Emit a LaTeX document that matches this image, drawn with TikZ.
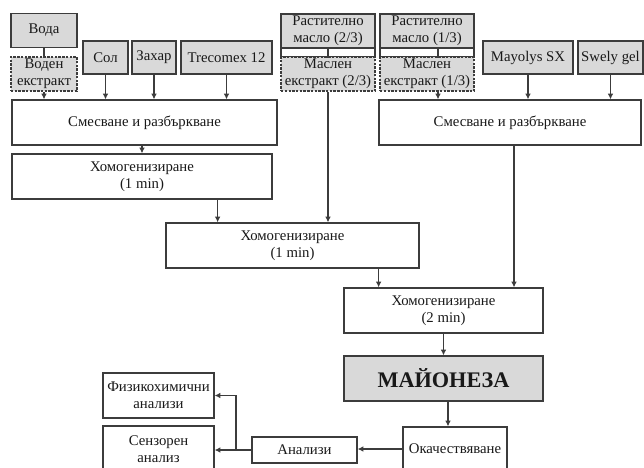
\documentclass[tikz,border=0pt]{standalone}
\usepackage{fontspec}
\setmainfont{Liberation Serif}
\usetikzlibrary{arrows.meta,positioning,calc}
\definecolor{mayoline}{HTML}{3C3C3C}
\definecolor{mayogray}{HTML}{D9D9D9}
\tikzset{box/.style={draw=mayoline,line width=1.05pt,fill=white,align=center,inner sep=0pt,text=black!90,
  font=\fontsize{12.6}{14.5}\selectfont,minimum height=13.5mm},
 grbox/.style={box,fill=mayogray,minimum height=10.2mm},
 dbox/.style={grbox,dash pattern=on 2pt off 1.2pt},
 strip/.style={draw=mayoline,line width=1.05pt,fill=white,inner sep=0pt,minimum height=2.7mm,minimum width=28.2mm},
 flow/.style={-{Latex[length=5pt,width=5pt]},draw=mayoline,line width=1.05pt},
 joint/.style={draw=mayoline,line width=1.05pt}}
\begin{document}
\begin{tikzpicture}[x=0.3mm,y=-0.3mm]
\useasboundingbox (0,0) rectangle (644,468);
\clip (0,0) rectangle (644,468);
% water phase
\node[grbox,minimum width=19.8mm] (voda) at (44,30.5) {Вода};
\node[dbox,minimum width=19.8mm] (voden) at (44,74) {Воден\\екстракт};
\node[grbox,minimum width=13.5mm,minimum height=9.9mm] (sol) at (105.5,57.5) {Сол};
\node[grbox,minimum width=13.2mm,minimum height=9.9mm] (zahar) at (154,57.5) {Захар};
\node[grbox,minimum width=27.3mm,minimum height=9.9mm] (trecomex) at (226.5,57.5) {Trecomex 12};
\node[box,minimum width=79.5mm] (mix1) at (144.5,122.5) {Смесване и разбъркване};
\node[box,minimum width=78mm] (hom1) at (142,176.5) {Хомогенизиране\\(1 min)};
% oil phase
\node[grbox,minimum width=28.2mm] (rast23) at (328,31) {Растително\\масло (2/3)};
\node[strip] (strip23) at (328,52.5) {};
\node[dbox,minimum width=28.2mm] (maslen23) at (328,74) {Маслен\\екстракт (2/3)};
\node[grbox,minimum width=28.2mm] (rast13) at (427,31) {Растително\\масло (1/3)};
\node[strip] (strip13) at (427,52.5) {};
\node[dbox,minimum width=28.2mm] (maslen13) at (427,74) {Маслен\\екстракт (1/3)};
\node[grbox,minimum width=27mm,minimum height=9.9mm] (mayolys) at (528,57.5) {Mayolys SX};
\node[grbox,minimum width=19.5mm,minimum height=9.9mm] (swely) at (610.5,57.5) {Swely gel};
\node[box,minimum width=78.6mm] (mix2) at (510,122.5) {Смесване и разбъркване};
% emulsion
\node[box,minimum width=75.9mm] (hom2) at (292.5,245.5) {Хомогенизиране\\(1 min)};
\node[box,minimum width=59.7mm] (hom3) at (443.5,310.5) {Хомогенизиране\\(2 min)};
\node[box,fill=mayogray,minimum width=59.7mm,font=\fontsize{19}{22}\selectfont\bfseries] (mayo) at (443.5,378.5) {МАЙОНЕЗА};
\node[box,minimum width=31.2mm,minimum height=13.2mm] (okach) at (455,449) {Окачествяване};
\node[box,minimum width=31.5mm,minimum height=7.8mm] (analizi) at (304.5,450) {Анализи};
\node[box,minimum width=33.3mm] (fiz) at (158.5,395.5) {Физикохимични\\анализи};
\node[box,minimum width=33.3mm,minimum height=13.8mm] (senz) at (158.5,449) {Сензорен\\анализ};
\coordinate (split) at (236,450);
% connectors
\draw[joint] (voda.south) -- (voden.north);
\draw[joint] (strip23.north) -- (strip23.south);
\draw[joint] ([xshift=3.3mm]strip13.north) -- ([xshift=3.3mm]strip13.south);
\draw[flow] (voden.south) -- (voden.south |- mix1.north);
\draw[flow] (sol.south) -- (sol.south |- mix1.north);
\draw[flow] (zahar.south) -- (zahar.south |- mix1.north);
\draw[flow] (trecomex.south) -- (trecomex.south |- mix1.north);
\draw[flow] (hom1.north |- mix1.south) -- (hom1.north);
\draw[flow] ([xshift=3.3mm]maslen13.south) -- ([xshift=3.3mm]maslen13.south |- mix2.north);
\draw[flow] (mayolys.south) -- (mayolys.south |- mix2.north);
\draw[flow] (swely.south) -- (swely.south |- mix2.north);
\draw[flow] ([xshift=-16.5mm]hom1.south east) -- ([xshift=-16.5mm]hom1.south east |- hom2.north);
\draw[flow] (maslen23.south) -- (maslen23.south |- hom2.north);
\draw[flow] ([xshift=-12.3mm]hom2.south east) -- ([xshift=-12.3mm]hom2.south east |- hom3.north);
\draw[flow] ([xshift=1.2mm]mix2.south) -- ([xshift=1.2mm]mix2.south |- hom3.north);
\draw[flow] (hom3.south) -- (mayo.north);
\draw[flow] ([xshift=1.35mm]mayo.south) -- ([xshift=1.35mm]mayo.south |- okach.north);
\draw[flow] (okach.west) -- (okach.west -| analizi.east);
\draw[flow] (analizi.west) -- (split) |- (fiz.east);
\draw[flow] (split) -- (split -| senz.east);
\end{tikzpicture}
\end{document}
